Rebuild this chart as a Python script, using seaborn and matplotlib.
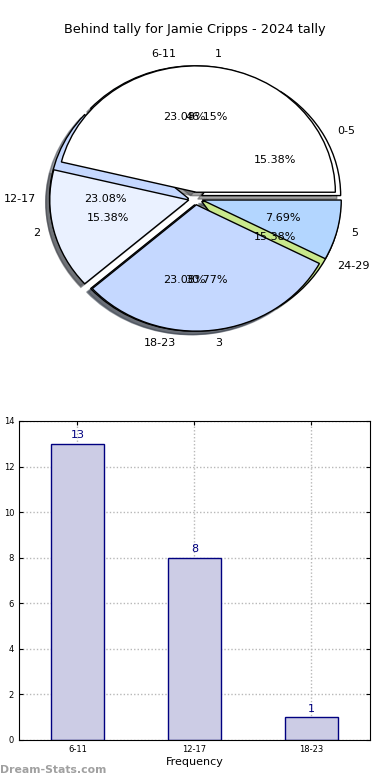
import matplotlib
matplotlib.use('Agg')
import matplotlib.pyplot as plt
import seaborn as sns

# 数据
range_labels = ['0-5', '6-11', '12-17', '18-23', '24-29']
range_counts = [2, 3, 3, 3, 2]
tally_labels = ['1', '2', '3', '5']
tally_counts = [6, 2, 4, 1]
bar_labels = ['6-11', '12-17', '18-23']
bar_values = [13, 8, 1]

pie_colors = ['#ffffff', '#eaf1ff', '#c5d8ff', '#b3d6ff', '#c9e88c']

plt.rcParams['font.family'] = ['DejaVu Sans']

fig = plt.figure(figsize=(3.9, 7.8), dpi=100)

# 饼图 (两层叠加)
ax1 = fig.add_axes([0.0558, 0.543, 0.891, 0.405])
wp = {'edgecolor': 'black', 'linewidth': 1}
ax1.pie(range_counts, labels=range_labels, colors=pie_colors,
        explode=[0.05] * len(range_counts), autopct='%.2f%%',
        shadow=True, wedgeprops=wp, textprops={'fontsize': 8})
ax1.pie(tally_counts, labels=tally_labels, colors=pie_colors[:4],
        explode=[0.05] * len(tally_counts), autopct='%.2f%%',
        shadow=True, wedgeprops=wp, textprops={'fontsize': 8})
ax1.set_aspect('auto')
ax1.set_xlim(-1.25, 1.25)
ax1.set_ylim(-1.25, 1.25)
ax1.axis('off')

fig.text(0.5, 1 - 30 / 780, 'Behind tally for Jamie Cripps - 2024 tally',
         ha='center', va='center', fontsize=9.3)

# 柱状图
ax2 = fig.add_axes([0.0487, 0.0513, 0.9, 0.409])
sns.barplot(x=bar_labels, y=bar_values, ax=ax2, width=0.45, color='#ccccE5',
            saturation=1, edgecolor='#000080', linewidth=1)
for i, v in enumerate(bar_values):
    ax2.text(i, v + 0.15, str(v), ha='center', va='bottom', color='#000080', fontsize=8)
ax2.set_xlim(-0.5, 2.5)
ax2.set_ylim(0, 14)
ax2.set_yticks(range(0, 15, 2))
ax2.grid(True, linestyle=(0, (1, 1.5)), color='#b8b8b8', linewidth=1)
ax2.set_axisbelow(True)
ax2.tick_params(direction='in', top=True, right=True, labelsize=6, length=3)
for s in ax2.spines.values():
    s.set_color('black')
ax2.set_xlabel('Frequency', fontsize=8, labelpad=2)
ax2.set_ylabel('Behind Tally', fontsize=8)
ax2.yaxis.set_label_coords(-0.06, 0.5)

fig.text(0.0, 1 - 770 / 780, 'Dream-Stats.com', ha='left', va='center',
         fontsize=7.8, color='#a0a0a0', fontweight='bold')

fig.savefig('out.png', dpi=100)
